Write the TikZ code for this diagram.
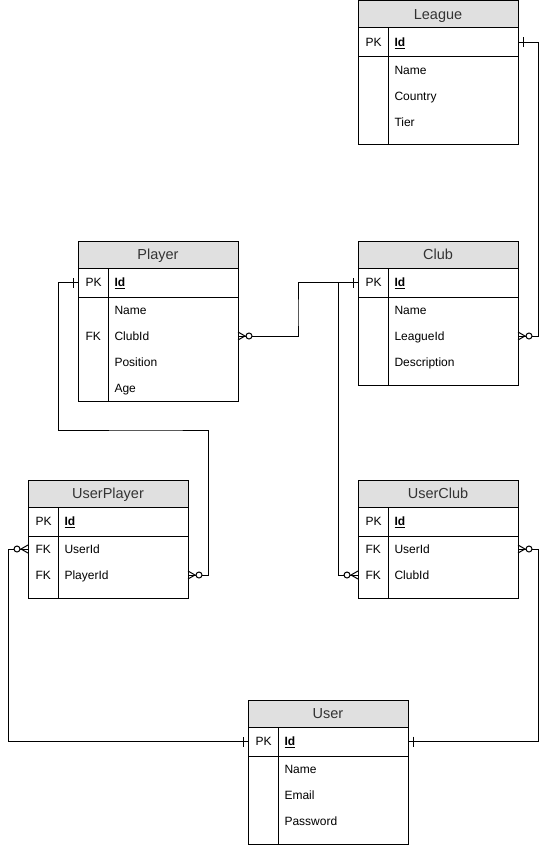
\documentclass[tikz,border=0pt]{standalone}
\usepackage{fontspec}
\setmainfont{Liberation Sans}
\usetikzlibrary{calc}

\definecolor{hdrgray}{HTML}{E0E0E0}
\definecolor{hdrtext}{HTML}{333333}

\newcommand\keyattr[1]{\textbf{\underline{#1}}}

% Table frame: #1 name, #2 left x, #3 top y, #4 title, #5 body height
\newcommand\ertable[5]{%
  \node[hdr, anchor=north west] (#1) at (#2,#3) {#4};
  \node[pkrow, anchor=north west] (#1-id) at (#1.south west) {};
  \node[bodyrow, anchor=north west, minimum height=#5] (#1-body) at (#1-id.south west) {};
  \draw ([xshift=30pt]#1-id.north west) -- ([xshift=30pt]#1-body.south west);
  \node[keytxt] at ([xshift=7pt]#1-id.west) {PK};
  \node[fldtxt] at ([xshift=36pt]#1-id.west) {\keyattr{Id}};
}
% Body field: #1 table, #2 row name, #3 row index (0..), #4 text
\newcommand\erfield[4]{%
  \node[fldtxt] (#1-#2) at ([xshift=36pt,yshift={-13pt-26pt*#3}]#1-body.north west) {#4};
}
\newcommand\erkey[3]{%
  \node[keytxt] at ([xshift=7pt,yshift={-13pt-26pt*#2}]#1-body.north west) {#3};
}

\tikzset{
  hdr/.style={draw, fill=hdrgray, minimum width=160pt, minimum height=27pt,
    inner sep=0pt, outer sep=0pt, text height=11.5pt, text depth=1pt,
    text=hdrtext, font=\fontsize{14.5}{16}\selectfont},
  pkrow/.style={draw, minimum width=160pt, minimum height=29pt, inner sep=0pt, outer sep=0pt},
  bodyrow/.style={draw, minimum width=160pt, inner sep=0pt, outer sep=0pt},
  keytxt/.style={anchor=west, inner sep=0pt, text height=10pt, text depth=1.5pt,
    font=\fontsize{12}{14}\selectfont},
  fldtxt/.style={anchor=west, inner sep=0pt, text height=10pt, text depth=1.5pt,
    font=\fontsize{12}{14}\selectfont},
  one/.pic={\draw (5,-5) -- (5,5);},
  zmany/.pic={
    \draw (0,-4) -- (7,0) -- (0,4);
    \draw[fill=white] (11,0) circle[radius=3];
  },
}

\begin{document}
\begin{tikzpicture}[x=1pt, y=-1pt, line width=1pt]
\useasboundingbox (0,0) rectangle (548,845);

% League
\ertable{league}{358}{1}{League}{88pt}
\erfield{league}{name}{0}{Name}
\erfield{league}{country}{1}{Country}
\erfield{league}{tier}{2}{Tier}

% Player
\ertable{player}{78}{241}{Player}{104pt}
\erfield{player}{name}{0}{Name}
\erfield{player}{clubid}{1}{ClubId}
\erkey{player}{1}{FK}
\erfield{player}{position}{2}{Position}
\erfield{player}{age}{3}{Age}

% Club
\ertable{club}{358}{241}{Club}{88pt}
\erfield{club}{name}{0}{Name}
\erfield{club}{leagueid}{1}{LeagueId}
\erfield{club}{description}{2}{Description}

% UserPlayer
\ertable{userplayer}{28}{480}{UserPlayer}{62pt}
\erfield{userplayer}{userid}{0}{UserId}
\erkey{userplayer}{0}{FK}
\erfield{userplayer}{playerid}{1}{PlayerId}
\erkey{userplayer}{1}{FK}

% UserClub
\ertable{userclub}{358}{480}{UserClub}{62pt}
\erfield{userclub}{userid}{0}{UserId}
\erkey{userclub}{0}{FK}
\erfield{userclub}{clubid}{1}{ClubId}
\erkey{userclub}{1}{FK}

% User
\ertable{user}{248}{700}{User}{88pt}
\erfield{user}{name}{0}{Name}
\erfield{user}{email}{1}{Email}
\erfield{user}{password}{2}{Password}

% League 1 -- n Club
\draw (league-id.east) -- ++(20,0) |- (club-leagueid -| club-body.east);
\pic at (league-id.east) {one};
\pic at (club-leagueid -| club-body.east) {zmany};

% Club 1 -- n Player
\draw (player-clubid -| player-body.east) -| ($(player-body.east)!0.5!(club-id.west)$) |- (club-id.west);
\pic at (player-clubid -| player-body.east) {zmany};
\pic[rotate=180] at (club-id.west) {one};

% Club 1 -- n UserClub
\draw ([xshift=-20pt]club-id.west) |- (userclub-clubid -| userclub-body.west);
\pic[rotate=180] at (userclub-clubid -| userclub-body.west) {zmany};

% Player 1 -- n UserPlayer
\draw (player-id.west) -- ++(-20,0) |- ($(player-body.south)+(0,29)$) -| ([xshift=20pt]userplayer-playerid -| userplayer-body.east) -- (userplayer-playerid -| userplayer-body.east);
\pic[rotate=180] at (player-id.west) {one};
\pic at (userplayer-playerid -| userplayer-body.east) {zmany};

% User 1 -- n UserPlayer
\draw (user-id.west) -| ([xshift=-20pt]userplayer-userid -| userplayer-body.west) -- (userplayer-userid -| userplayer-body.west);
\pic[rotate=180] at (user-id.west) {one};
\pic[rotate=180] at (userplayer-userid -| userplayer-body.west) {zmany};

% User 1 -- n UserClub
\draw (user-id.east) -| ([xshift=20pt]userclub-userid -| userclub-body.east) -- (userclub-userid -| userclub-body.east);
\pic at (user-id.east) {one};
\pic at (userclub-userid -| userclub-body.east) {zmany};
\end{tikzpicture}
\end{document}
